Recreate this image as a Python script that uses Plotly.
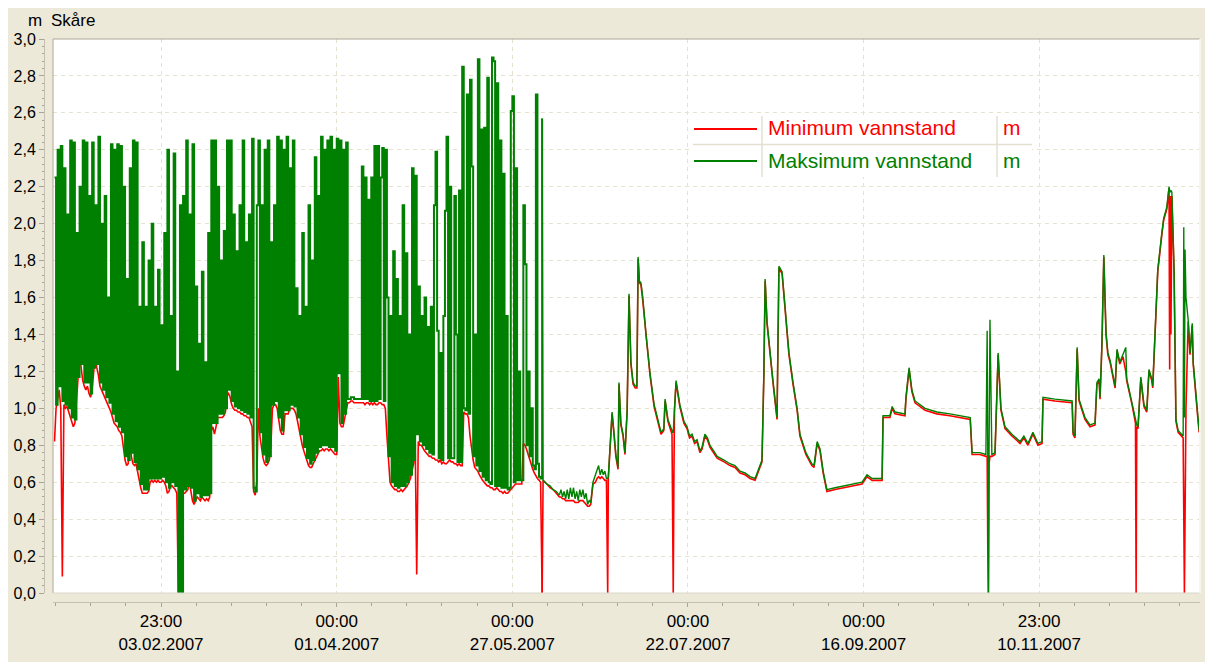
import numpy as np
import pandas as pd
import plotly.graph_objects as go

START = pd.Timestamp("2007-01-01 00:00")

# ---- early period: half-day sampling (days since 1 Jan 2007) ----
early_days = np.arange(0, 156, 0.5)

min_early = [
    0.82, 1.00, 1.05, 1.10, 1.00, 0.09, 1.02, 1.00, 1.01, 0.98,
    0.96, 0.93, 0.90, 0.92, 1.05, 1.15, 1.28, 1.22, 1.15, 1.12,
    1.10, 1.12, 1.08, 1.06, 1.10, 1.20, 1.28, 1.22, 1.18, 1.12,
    1.10, 1.08, 1.06, 1.04, 1.03, 1.01, 0.98, 0.95, 0.92, 0.91,
    0.90, 0.88, 0.87, 0.85, 0.78, 0.72, 0.69, 0.70, 0.86, 0.74,
    0.70, 0.69, 0.70, 0.65, 0.60, 0.57, 0.54, 0.54, 0.54, 0.54,
    0.55, 0.60, 0.61, 0.60, 0.61, 0.60, 0.61, 0.60, 0.60, 0.61,
    0.60, 0.58, 0.54, 0.55, 0.58, 0.58, 0.57, 0.56, 0.54, 0.00,
    0.54, 0.00, 0.54, 0.54, 0.55, 0.56, 0.60, 0.55, 0.50, 0.48,
    0.50, 0.52, 0.51, 0.50, 0.52, 0.51, 0.50, 0.51, 0.50, 0.52,
    0.88, 0.90, 0.86, 0.90, 0.95, 0.95, 0.95, 0.95, 0.96, 0.98,
    1.07, 1.08, 1.06, 1.02, 1.00, 0.99, 0.99, 0.98, 0.98, 0.97,
    0.97, 0.96, 0.96, 0.95, 0.95, 0.93, 0.90, 0.55, 0.53, 0.60,
    1.00, 0.85, 0.78, 0.73, 0.70, 0.69, 0.70, 0.72, 0.80, 1.00,
    1.02, 1.02, 1.00, 0.93, 0.88, 0.86, 0.86, 0.97, 0.97, 0.97,
    1.00, 1.00, 1.00, 0.99, 0.97, 0.93, 0.88, 0.84, 0.80, 0.77,
    0.74, 0.71, 0.69, 0.68, 0.68, 0.70, 0.72, 0.74, 0.76, 0.77,
    0.77, 0.78, 0.77, 0.78, 0.78, 0.77, 0.78, 0.77, 0.76, 0.75,
    0.75, 1.17, 0.92, 0.90, 0.90, 0.95, 1.00, 1.03, 1.03, 1.04,
    1.04, 1.03, 1.03, 1.03, 1.03, 1.03, 1.03, 1.03, 1.02, 1.03,
    1.03, 1.02, 1.03, 1.02, 1.03, 1.02, 1.02, 1.03, 1.03, 1.02,
    1.02, 1.00, 0.85, 0.72, 0.60, 0.58, 0.57, 0.56, 0.56, 0.55,
    0.55, 0.56, 0.55, 0.56, 0.57, 0.58, 0.60, 0.62, 0.66, 0.70,
    0.84, 0.10, 0.82, 0.80, 0.80, 0.78, 0.77, 0.76, 0.75, 0.74,
    0.74, 0.73, 0.73, 0.72, 0.72, 0.71, 0.72, 0.70, 0.71, 0.70,
    0.70, 0.71, 0.72, 0.71, 0.71, 0.70, 0.70, 0.69, 0.70, 0.69,
    0.69, 0.98, 0.97, 0.97, 0.95, 0.85, 0.78, 0.72, 0.68, 0.67,
    0.66, 0.64, 0.62, 0.61, 0.60, 0.59, 0.58, 0.58, 0.57, 0.57,
    0.56, 0.56, 0.57, 0.56, 0.55, 0.55, 0.54, 0.55, 0.54, 0.54,
    0.55, 0.56, 0.57, 0.58, 0.59, 0.59, 0.59, 0.59, 0.59, 0.81,
    0.80, 0.78, 0.75, 0.72, 0.69, 0.67, 0.65, 0.63, 0.62, 0.61,
    0.60, 0.00,
]

max_early = [
    2.25, 1.02, 2.40, 1.12, 2.42, 1.04, 2.30, 1.02, 2.05, 1.00,
    2.45, 0.95, 2.44, 0.94, 1.95, 1.17, 2.20, 1.24, 2.45, 1.14,
    2.44, 1.14, 2.15, 1.08, 2.44, 1.22, 2.10, 1.24, 2.47, 1.14,
    2.00, 1.10, 2.15, 1.06, 1.60, 1.03, 2.43, 0.97, 2.40, 0.93,
    2.43, 0.90, 2.42, 0.87, 2.20, 0.74, 1.70, 0.72, 2.30, 0.76,
    2.45, 0.71, 2.44, 0.67, 1.55, 0.59, 1.90, 0.56, 1.55, 0.56,
    1.80, 0.62, 2.00, 0.62, 1.55, 0.62, 1.75, 0.62, 1.45, 0.63,
    1.95, 0.60, 2.40, 0.57, 1.50, 0.60, 2.38, 0.58, 1.20, 0.00,
    2.10, 0.00, 2.15, 0.56, 2.45, 0.58, 2.05, 0.57, 2.43, 0.50,
    1.66, 0.54, 1.35, 0.52, 1.74, 0.53, 1.25, 0.53, 1.95, 0.54,
    2.45, 0.92, 2.45, 0.92, 2.20, 0.97, 1.80, 0.97, 1.96, 1.00,
    2.45, 1.10, 2.45, 1.04, 2.05, 1.01, 1.85, 1.00, 2.10, 0.99,
    2.45, 0.98, 1.90, 0.97, 2.05, 0.95, 2.46, 0.57, 0.55, 2.10,
    2.45, 0.87, 2.10, 0.75, 2.40, 0.71, 2.45, 0.74, 1.90, 1.02,
    2.10, 1.04, 2.47, 0.95, 2.45, 0.88, 2.40, 0.99, 2.47, 0.99,
    2.30, 1.02, 2.45, 1.01, 1.65, 0.95, 1.50, 0.86, 1.95, 0.79,
    1.55, 0.73, 2.10, 0.70, 1.80, 0.72, 2.36, 0.76, 2.15, 0.79,
    2.47, 0.80, 2.40, 0.80, 2.45, 0.79, 2.47, 0.79, 2.40, 0.77,
    2.46, 1.19, 2.45, 0.92, 2.40, 0.97, 2.44, 1.05, 1.05, 1.06,
    1.06, 1.05, 1.05, 1.05, 1.05, 1.05, 2.31, 1.05, 2.25, 1.05,
    2.13, 1.04, 2.25, 1.04, 2.42, 1.04, 2.42, 1.05, 2.25, 2.41,
    1.04, 2.40, 1.60, 0.74, 1.50, 0.60, 1.85, 0.58, 1.70, 0.57,
    1.50, 0.58, 2.10, 0.58, 1.84, 0.60, 1.40, 0.64, 2.30, 0.72,
    2.26, 0.86, 1.66, 0.82, 1.50, 0.80, 1.60, 0.78, 1.44, 0.76,
    1.55, 0.75, 2.10, 2.39, 1.42, 0.73, 1.30, 0.72, 1.50, 2.07,
    2.47, 0.73, 2.20, 0.73, 0.73, 2.15, 1.40, 0.71, 2.18, 0.71,
    2.85, 1.00, 0.99, 2.70, 0.97, 2.78, 2.31, 0.74, 1.40, 0.69,
    2.89, 0.66, 2.51, 0.63, 2.52, 0.61, 2.79, 0.60, 0.59, 2.90,
    2.88, 0.58, 2.76, 0.58, 2.45, 0.57, 2.27, 0.57, 1.50, 0.56,
    0.57, 2.61, 2.69, 0.60, 2.30, 0.61, 1.20, 0.61, 0.61, 2.10,
    1.78, 0.80, 1.20, 0.74, 1.00, 0.69, 0.67, 2.70, 0.70, 0.63,
    0.62, 2.57,
]

# ---- later period: irregular samples (days since 1 Jan 2007) ----
late_days = [
    155.8, 157.0, 158.0, 159.0, 160.0, 161.0, 161.5, 162.0, 162.5, 163.0,
    163.5, 164.0, 164.5, 165.0, 165.5, 166.0, 166.5, 167.0, 167.5, 168.0,
    168.5, 169.0, 169.5, 170.0, 170.5, 171.0, 171.7, 172.5, 173.0, 173.5,
    174.0, 174.5, 175.0, 175.5, 176.0, 176.4, 176.6, 177.1, 177.8, 178.4,
    179.0, 179.7, 180.0, 180.6, 181.3, 181.9, 182.6, 183.2, 183.8, 184.5,
    185.2, 185.7, 186.1, 186.5, 187.0, 187.6, 188.6, 189.9, 191.2, 192.1,
    193.4, 194.3, 194.7, 195.6, 196.9, 197.1, 197.3, 197.5, 197.7, 198.2,
    199.4, 200.7, 201.7, 202.5, 203.3, 204.1, 204.9, 205.8, 206.5, 207.4,
    208.2, 209.0, 210.2, 211.3, 213.5, 215.4, 217.0, 218.6, 220.2, 221.8,
    223.4, 224.3, 225.6, 226.2, 226.6, 227.2, 228.2, 229.1, 230.4, 231.0,
    232.0, 232.9, 234.2, 235.5, 236.8, 237.7, 239.6, 241.5, 242.2, 243.2,
    244.1, 245.1, 246.3, 248.9, 252.1, 255.3, 257.5, 259.1, 260.7, 263.9,
    264.2, 266.4, 267.1, 268.0, 271.2, 271.5, 272.5, 273.4, 274.4, 277.6,
    281.4, 285.5, 288.7, 292.0, 292.6, 295.1, 297.0, 297.4, 297.6, 297.8,
    298.0, 298.3, 298.9, 299.9, 300.9, 301.8, 303.1, 305.3, 307.9, 309.1,
    310.4, 312.0, 313.6, 314.9, 315.2, 319.0, 324.5, 324.8, 325.4, 326.1,
    326.7, 328.6, 330.2, 331.8, 332.4, 333.1, 333.4, 334.0, 334.6, 335.3,
    335.9, 336.6, 338.2, 338.8, 339.7, 340.7, 341.6, 341.9, 343.6, 344.7,
    344.9, 345.1, 345.5, 346.4, 347.4, 348.3, 349.0, 349.9, 350.2, 350.9,
    351.8, 353.1, 353.7, 354.7, 355.4, 355.6, 355.8, 356.0, 356.3, 356.7,
    357.0, 357.6, 358.3, 359.9, 360.1, 360.3, 360.5, 360.8, 361.5, 362.1,
    362.8, 363.1, 364.4, 365.0,
]

min_late = [
    0.61, 0.59, 0.57, 0.56, 0.54, 0.52, 0.52, 0.51, 0.51, 0.50,
    0.50, 0.50, 0.50, 0.50, 0.50, 0.49, 0.49, 0.49, 0.50, 0.50,
    0.50, 0.49, 0.48, 0.47, 0.47, 0.48, 0.59, 0.60, 0.62, 0.63,
    0.62, 0.63, 0.62, 0.61, 0.61, 0.00, 0.62, 0.79, 0.97, 0.86,
    0.74, 0.67, 1.13, 0.91, 0.85, 0.75, 0.98, 1.61, 1.24, 1.13,
    1.11, 1.11, 1.81, 1.68, 1.67, 1.58, 1.39, 1.18, 1.01, 0.95,
    0.86, 0.88, 1.04, 0.93, 0.86, 0.43, 0.00, 0.60, 0.99, 1.14,
    1.01, 0.92, 0.89, 0.84, 0.85, 0.81, 0.82, 0.76, 0.78, 0.85,
    0.83, 0.79, 0.76, 0.73, 0.71, 0.69, 0.68, 0.65, 0.64, 0.62,
    0.61, 0.65, 0.71, 1.18, 1.69, 1.46, 1.27, 1.14, 0.94, 1.76,
    1.73, 1.54, 1.29, 1.13, 0.99, 0.85, 0.75, 0.69, 0.68, 0.81,
    0.77, 0.65, 0.55, 0.56, 0.57, 0.58, 0.59, 0.63, 0.61, 0.61,
    0.95, 0.95, 1.00, 0.97, 0.96, 1.05, 1.21, 1.09, 1.03, 0.99,
    0.97, 0.96, 0.95, 0.94, 0.75, 0.75, 0.74, 0.74, 0.25, 0.00,
    0.70, 0.74, 0.74, 0.75, 1.29, 0.99, 0.89, 0.85, 0.81, 0.84,
    0.80, 0.86, 0.80, 0.81, 1.05, 1.04, 1.03, 0.86, 0.84, 1.32,
    1.04, 0.94, 0.90, 0.91, 1.13, 1.15, 1.05, 1.34, 1.82, 1.40,
    1.29, 1.25, 1.11, 1.31, 1.24, 1.28, 1.20, 1.15, 1.02, 0.92,
    0.00, 0.90, 0.89, 1.16, 1.01, 0.98, 1.20, 1.15, 1.11, 1.40,
    1.74, 1.94, 2.02, 2.08, 2.19, 1.21, 2.15, 1.40, 2.15, 1.92,
    1.74, 0.93, 0.87, 0.84, 0.36, 0.00, 0.40, 1.00, 1.47, 1.29,
    1.45, 1.24, 0.98, 0.87,
]

max_late = [
    0.61, 0.59, 0.58, 0.56, 0.55, 0.53, 0.56, 0.52, 0.55, 0.51,
    0.56, 0.51, 0.57, 0.52, 0.57, 0.51, 0.55, 0.50, 0.56, 0.52,
    0.56, 0.51, 0.54, 0.48, 0.50, 0.49, 0.60, 0.64, 0.66, 0.69,
    0.64, 0.67, 0.64, 0.66, 0.62, 0.62, 0.63, 0.80, 0.98, 0.87,
    0.75, 0.68, 1.14, 0.92, 0.86, 0.76, 0.99, 1.62, 1.25, 1.14,
    1.12, 1.12, 1.82, 1.69, 1.68, 1.60, 1.40, 1.19, 1.02, 0.96,
    0.87, 0.89, 1.05, 0.94, 0.87, 0.87, 0.87, 0.95, 1.00, 1.15,
    1.02, 0.93, 0.90, 0.85, 0.86, 0.82, 0.83, 0.77, 0.79, 0.86,
    0.84, 0.80, 0.77, 0.74, 0.72, 0.70, 0.69, 0.66, 0.65, 0.63,
    0.62, 0.66, 0.72, 1.19, 1.70, 1.47, 1.28, 1.15, 0.95, 1.77,
    1.74, 1.55, 1.30, 1.14, 1.00, 0.86, 0.76, 0.70, 0.69, 0.82,
    0.78, 0.66, 0.56, 0.57, 0.58, 0.59, 0.60, 0.64, 0.62, 0.62,
    0.96, 0.96, 1.01, 0.98, 0.97, 1.06, 1.22, 1.10, 1.04, 1.00,
    0.98, 0.97, 0.96, 0.95, 0.76, 0.76, 0.75, 1.42, 0.75, 0.00,
    0.75, 1.48, 0.75, 0.76, 1.30, 1.00, 0.90, 0.86, 0.82, 0.85,
    0.81, 0.87, 0.81, 0.82, 1.06, 1.05, 1.04, 0.87, 0.85, 1.33,
    1.05, 0.95, 0.91, 0.92, 1.14, 1.16, 1.06, 1.35, 1.83, 1.41,
    1.30, 1.26, 1.12, 1.32, 1.25, 1.29, 1.33, 1.16, 1.03, 0.93,
    0.92, 0.91, 0.90, 1.17, 1.02, 0.99, 1.21, 1.16, 1.12, 1.41,
    1.75, 1.95, 2.03, 2.09, 2.20, 2.18, 2.17, 2.18, 2.17, 1.93,
    1.75, 0.94, 0.88, 0.85, 1.98, 0.95, 1.86, 1.60, 1.48, 1.30,
    1.46, 1.25, 0.99, 0.88,
]

tick_times = ["2007-02-03 23:00", "2007-04-01 00:00", "2007-05-27 00:00",
              "2007-07-22 00:00", "2007-09-16 00:00", "2007-11-10 23:00"]
tick_labels = ["23:00<br>03.02.2007", "00:00<br>01.04.2007", "00:00<br>27.05.2007",
               "00:00<br>22.07.2007", "00:00<br>16.09.2007", "23:00<br>10.11.2007"]

series_names = ["Minimum vannstand", "Maksimum vannstand"]
series_unit = "m"
station = "Skåre"
RED = "#FF0000"
GREEN = "#008000"

t_early = START + pd.to_timedelta(early_days, unit="D")
# late segment starts from the last early sample so the line is continuous
t_late = START + pd.to_timedelta([early_days[-1]] + late_days, unit="D")
min_late_full = [min_early[-1]] + min_late
max_late_full = [max_early[-1]] + max_late

fig = go.Figure()
fig.add_trace(go.Scatter(x=t_early, y=min_early, mode="lines", name=series_names[0],
                         line=dict(color=RED, width=1.6), hoverinfo="skip"))
fig.add_trace(go.Scatter(x=t_late, y=min_late_full, mode="lines", name=series_names[0],
                         line=dict(color=RED, width=1.6), hoverinfo="skip"))
fig.add_trace(go.Scatter(x=t_early, y=max_early, mode="lines", name=series_names[1],
                         line=dict(color=GREEN, width=2.0, shape="hv"), hoverinfo="skip"))
fig.add_trace(go.Scatter(x=t_late, y=max_late_full, mode="lines", name=series_names[1],
                         line=dict(color=GREEN, width=1.4), hoverinfo="skip"))

# The page body has an 8px default margin, so screen px = figure px + 8.
OFF = 8
W, H = 1213 - OFF, 662 - OFF
# paper box in screen pixels (inside margins)
L, R, T, B = 44, 1200, 39, 602
def px(x):
    return (x - L) / (R - L)
def py(y):
    return (B - y) / (B - T)

FONT = "Liberation Sans, Arial, sans-serif"
GRID = "#E6E2CC"
TICKC = "#A8A596"

fig.update_layout(
    width=W, height=H,
    margin=dict(l=L - OFF, r=W - (R - OFF), t=T - OFF, b=H - (B - OFF), pad=0, autoexpand=False),
    paper_bgcolor="#ECE9D8", plot_bgcolor="#FFFFFF",
    separators=",.",
    showlegend=False,
    font=dict(family=FONT, color="#000000"),
    xaxis=dict(
        domain=[px(53), 1], anchor="free", position=0, automargin=False,
        type="date", range=["2006-12-31 12:30", "2008-01-01 06:30"],
        tickmode="array", tickvals=tick_times, ticktext=tick_labels,
        ticks="outside", ticklen=4, tickcolor=TICKC,
        showline=True, linecolor="#C4C1B4", linewidth=1,
        showgrid=True, gridcolor=GRID, griddash="4px,4px", gridwidth=1,
        zeroline=False, tickfont=dict(size=17, family=FONT),
        minor=dict(tick0="2007-02-03 23:00", dtick=11.2 * 86400000,
                   ticks="outside", ticklen=3, tickcolor=TICKC, showgrid=False),
    ),
    yaxis=dict(
        domain=[py(593), 1], anchor="free", position=0, automargin=False,
        range=[0, 3.0], tick0=0, dtick=0.2, tickformat=".1f",
        ticks="outside", ticklen=5, tickcolor=TICKC,
        showline=True, linecolor="#C4C1B4", linewidth=1,
        showgrid=True, gridcolor=GRID, griddash="4px,4px", gridwidth=1,
        zeroline=False, tickfont=dict(size=16, family=FONT),
        minor=dict(dtick=0.04, ticks="outside", ticklen=2, tickcolor=TICKC, showgrid=False),
    ),
)

shapes = []
# plot frame (sunken look)
shapes.append(dict(type="line", xref="x domain", yref="y domain", x0=0, x1=1, y0=1, y1=1,
                   line=dict(color="#ACA899", width=1)))
shapes.append(dict(type="line", xref="x domain", yref="y domain", x0=0, x1=0, y0=0, y1=1,
                   line=dict(color="#ACA899", width=1)))
shapes.append(dict(type="line", xref="x domain", yref="y domain", x0=0, x1=1, y0=0, y1=0,
                   line=dict(color="#DAD7CA", width=1)))
shapes.append(dict(type="line", xref="x domain", yref="y domain", x0=1, x1=1, y0=0, y1=1,
                   line=dict(color="#F6F5EF", width=2)))

# legend table
leg_x0, leg_x1, leg_y0, leg_y1 = 690, 1032, 116, 177
shapes.append(dict(type="rect", xref="paper", yref="paper",
                   x0=px(leg_x0), x1=px(leg_x1), y0=py(leg_y1), y1=py(leg_y0),
                   fillcolor="#FFFFFF", line=dict(width=0)))
SEP = "#E3E0D0"
shapes.append(dict(type="line", xref="paper", yref="paper",
                   x0=px(693), x1=px(leg_x1), y0=py(144.5), y1=py(144.5), line=dict(color=SEP, width=1.5)))
for sx in (762, 997):
    shapes.append(dict(type="line", xref="paper", yref="paper",
                       x0=px(sx), x1=px(sx), y0=py(leg_y1), y1=py(leg_y0), line=dict(color=SEP, width=1.5)))
row_y = [129, 161]
colors = [RED, GREEN]
for ry, c in zip(row_y, colors):
    shapes.append(dict(type="line", xref="paper", yref="paper",
                       x0=px(694), x1=px(757), y0=py(ry), y1=py(ry), line=dict(color=c, width=2)))

annotations = []
for ry, c, name in zip(row_y, colors, series_names):
    annotations.append(dict(xref="paper", yref="paper", x=px(766), y=py(ry - 1), xanchor="left", yanchor="middle",
                            text=name, showarrow=False, font=dict(size=21, color=c, family=FONT)))
    annotations.append(dict(xref="paper", yref="paper", x=px(1001), y=py(ry - 1), xanchor="left", yanchor="middle",
                            text=series_unit, showarrow=False, font=dict(size=21, color=c, family=FONT)))

annotations.append(dict(xref="paper", yref="paper", x=px(44), y=py(20), xanchor="right", yanchor="middle",
                        text="m", showarrow=False, font=dict(size=17, family=FONT, color="#000000")))
annotations.append(dict(xref="paper", yref="paper", x=px(49), y=py(20), xanchor="left", yanchor="middle",
                        text=station, showarrow=False, font=dict(size=17, family=FONT, color="#000000")))

fig.update_layout(shapes=shapes, annotations=annotations)
fig.write_html("out.html")
